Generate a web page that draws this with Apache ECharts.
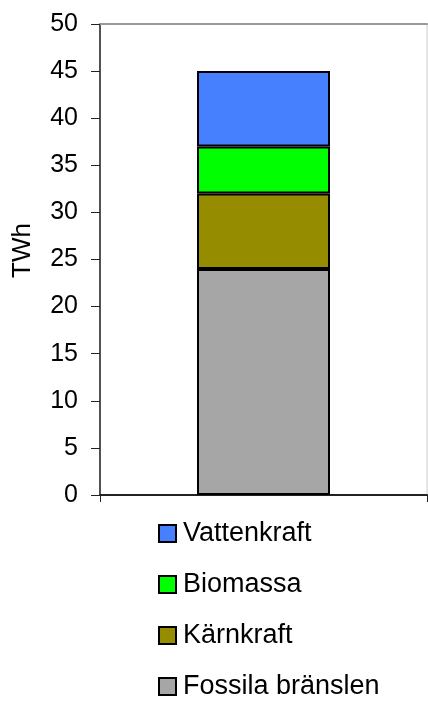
<!DOCTYPE html>
<html>
<head>
<meta charset="utf-8">
<script src="https://cdn.jsdelivr.net/npm/echarts@6/dist/echarts.min.js"></script>
<style>
  html, body { margin: 0; padding: 0; background: #fff; }
  #chart { width: 428px; height: 701px; }
</style>
</head>
<body>
<div id="chart"></div>
<script>
// data (TWh)
var categories = [''];
var seriesNames = ['Fossila bränslen', 'Kärnkraft', 'Biomassa', 'Vattenkraft'];
var fossila = [24];
var karnkraft = [8];
var biomassa = [5];
var vattenkraft = [8];
var colors = ['#a6a6a6', '#968c00', '#00ff00', '#4680ff'];
var legendOrder = ['Vattenkraft', 'Biomassa', 'Kärnkraft', 'Fossila bränslen'];

var values = [fossila, karnkraft, biomassa, vattenkraft];
var series = [];
for (var i = 0; i < seriesNames.length; i++) {
  series.push({
    name: seriesNames[i],
    type: 'bar',
    stack: 'total',
    barWidth: 133,
    data: values[i],
    itemStyle: { color: colors[i], borderColor: '#000', borderWidth: 2 }
  });
}

var font = 'Liberation Sans, Arial, sans-serif';
var chart = echarts.init(document.getElementById('chart'));
chart.setOption({
  animation: false,
  textStyle: { fontFamily: font },
  grid: {
    left: 100, right: 1, top: 24, bottom: 206,
    show: true, borderColor: '#cccccc', borderWidth: 1
  },
  legend: {
    orient: 'vertical',
    left: 158,
    top: 520,
    height: 200,
    padding: 0,
    itemGap: 24,
    itemWidth: 17,
    itemHeight: 17,
    icon: 'rect',
    data: legendOrder,
    itemStyle: { borderColor: '#000', borderWidth: 2 },
    textStyle: { fontSize: 27, color: '#000', fontFamily: font, padding: [0, 0, 0, 2] }
  },
  xAxis: [{
    type: 'category',
    data: categories,
    axisLine: { lineStyle: { color: '#222', width: 2 } },
    axisTick: { show: true, length: 7, lineStyle: { color: '#222' } },
    axisLabel: { show: false }
  }, {
    // gray top frame line
    type: 'category',
    position: 'top',
    data: categories,
    axisLine: { lineStyle: { color: '#999', width: 2 } },
    axisTick: { show: false },
    axisLabel: { show: false }
  }],
  yAxis: {
    type: 'value',
    min: 0,
    max: 50,
    interval: 5,
    name: 'TWh',
    nameLocation: 'middle',
    nameRotate: 90,
    nameGap: 64,
    nameTextStyle: { fontSize: 26, color: '#000', padding: [0, 0, 0, 18] },
    axisLine: { show: true, lineStyle: { color: '#222', width: 1.5 } },
    axisTick: { show: true, length: 9, lineStyle: { color: '#222' } },
    axisLabel: { fontSize: 25, color: '#000', margin: 22 },
    splitLine: { show: false }
  },
  series: series
});
</script>
</body>
</html>
